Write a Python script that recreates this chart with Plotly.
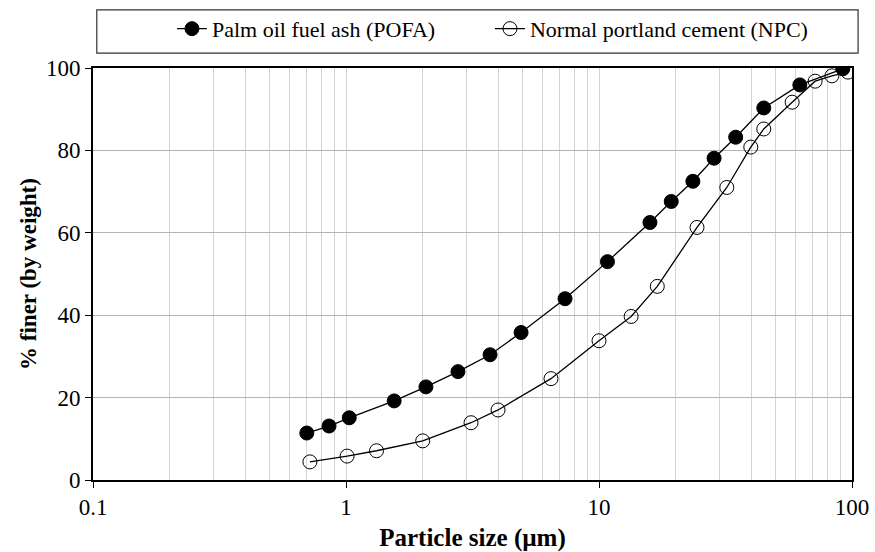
import plotly.graph_objects as go

pofa_x = [0.70, 0.857, 1.03, 1.55, 2.07, 2.77, 3.71, 4.92, 7.34, 10.8, 15.9, 19.3, 23.5, 28.5, 34.7, 44.8, 62.2, 92.0]
pofa_y = [11.4, 13.1, 15.1, 19.2, 22.6, 26.3, 30.4, 35.8, 44.0, 53.0, 62.5, 67.6, 72.5, 78.1, 83.2, 90.3, 95.9, 99.8]

npc_x = [0.72, 1.01, 1.32, 2.01, 3.12, 3.99, 6.46, 10.0, 13.4, 17.0, 24.4, 32.0, 39.8, 44.8, 58.0, 71.5, 83.3, 96.4]
npc_y = [4.4, 5.8, 7.1, 9.5, 13.9, 17.0, 24.6, 33.8, 39.7, 47.0, 61.3, 71.0, 80.8, 85.2, 91.7, 96.8, 98.1, 99.0]

x_tickvals = [0.1, 1, 10, 100]
x_ticktext = ["0.1", "1", "10", "100"]
y_tickvals = [0, 20, 40, 60, 80, 100]

fig = go.Figure()
fig.add_trace(go.Scatter(
    x=pofa_x, y=pofa_y, mode="lines+markers", name="Palm oil fuel ash (POFA)",
    line=dict(color="black", width=1.3),
    marker=dict(symbol="circle", size=14, color="black", line=dict(color="black", width=1)),
))
fig.add_trace(go.Scatter(
    x=npc_x, y=npc_y, mode="lines+markers", name="Normal portland cement (NPC)",
    line=dict(color="black", width=1.3),
    marker=dict(symbol="circle-open", size=14, color="black", line=dict(color="black", width=1)),
))

serif = "Liberation Serif, Times New Roman, serif"
fig.update_layout(
    width=875, height=552,
    margin=dict(l=93, r=23, t=68, b=72, autoexpand=False),
    paper_bgcolor="white", plot_bgcolor="white",
    font=dict(family=serif, color="black", size=20),
    showlegend=True,
    legend=dict(orientation="h", x=0.523, y=1.095, xanchor="center", yanchor="middle",
                bgcolor="rgba(0,0,0,0)", font=dict(family=serif, size=22, color="black"),
                itemwidth=30, entrywidth=273, tracegroupgap=0),
    shapes=[dict(type="rect", xref="paper", yref="paper", x0=0.005, x1=1.008, y0=1.036, y1=1.141,
                 line=dict(color="#333333", width=1.2), fillcolor="rgba(0,0,0,0)")],
)
fig.update_xaxes(
    type="log", range=[-1, 2], automargin=False,
    tickvals=x_tickvals, ticktext=x_ticktext,
    ticks="outside", ticklen=6, tickcolor="black", tickwidth=1.3,
    showline=True, linecolor="black", linewidth=1.6, mirror=True,
    showgrid=True, gridcolor="#d4d4d4", gridwidth=1,
    minor=dict(dtick="D1", showgrid=True, gridcolor="#d4d4d4", gridwidth=1, ticks=""),
    tickfont=dict(family=serif, size=23),
    title=dict(text="<b>Particle size (µm)</b>", font=dict(family=serif, size=25), standoff=10),
    zeroline=False,
)
fig.update_yaxes(
    range=[0, 100], tickvals=y_tickvals, automargin=False,
    ticks="outside", ticklen=6, tickcolor="black", tickwidth=1.3,
    showline=True, linecolor="black", linewidth=1.6, mirror=True,
    showgrid=True, gridcolor="#b4b4b4", gridwidth=1,
    tickfont=dict(family=serif, size=23),
    title=dict(text="<b>% finer (by weight)</b>", font=dict(family=serif, size=23), standoff=3),
    zeroline=False,
)

fig.write_html("out.html", config={"displayModeBar": False},
               post_script="document.body.style.margin='0';document.body.style.padding='0';")
